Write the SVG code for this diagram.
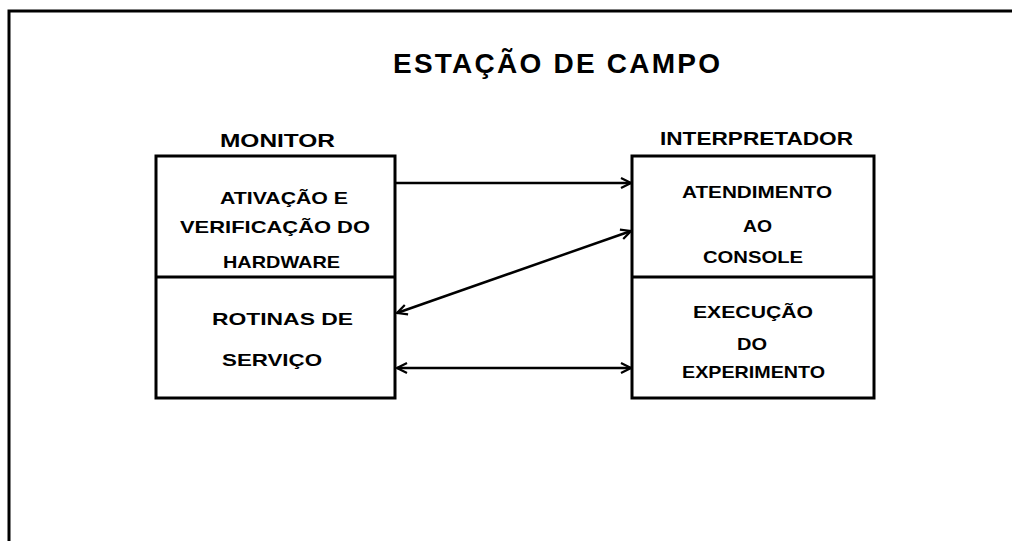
<svg xmlns="http://www.w3.org/2000/svg" width="1012" height="541" viewBox="0 0 1012 541">
<defs>
<style>
.frame{fill:none;stroke:#000;stroke-width:3}
.box{fill:#fff;stroke:#000;stroke-width:3}
.div{stroke:#000;stroke-width:3}
.t{font-family:"Liberation Sans",Arial,sans-serif;font-weight:bold;font-size:17px;fill:#000}
.h{font-family:"Liberation Sans",Arial,sans-serif;font-weight:bold;font-size:18px;fill:#000}
.title{font-family:"Liberation Sans",Arial,sans-serif;font-weight:bold;font-size:28px;fill:#000}
.c{fill:none;stroke:#000;stroke-width:2.5}
</style>
<marker id="ah" viewBox="0 0 12 12" refX="11" refY="6" markerWidth="12" markerHeight="12" markerUnits="userSpaceOnUse" orient="auto-start-reverse">
<path d="M1,1 L11,6 L1,11" fill="none" stroke="#000" stroke-width="2.2"/>
</marker>
</defs>
<rect width="1012" height="541" fill="#fff"/>
<path class="frame" d="M9,541 L9,11 L1012,11"/>
<text class="title" x="393" y="73" textLength="327" lengthAdjust="spacing">ESTAÇÃO DE CAMPO</text>

<g id="monitor">
<text class="h" x="220" y="147" textLength="115" lengthAdjust="spacingAndGlyphs">MONITOR</text>
<rect class="box" x="156" y="156" width="239" height="242"/>
<line class="div" x1="156" y1="277" x2="395" y2="277"/>
</g>
<g id="ativacao">
<text class="t" x="220" y="204" textLength="128" lengthAdjust="spacingAndGlyphs">ATIVAÇÃO E</text>
<text class="t" x="180" y="233" textLength="190" lengthAdjust="spacingAndGlyphs">VERIFICAÇÃO DO</text>
<text class="t" x="223" y="268" textLength="117" lengthAdjust="spacingAndGlyphs">HARDWARE</text>
</g>
<g id="rotinas">
<text class="t" x="212" y="325" textLength="141" lengthAdjust="spacingAndGlyphs">ROTINAS  DE</text>
<text class="t" x="222" y="366" textLength="100" lengthAdjust="spacingAndGlyphs">SERVIÇO</text>
</g>

<g id="interpretador">
<text class="h" x="660" y="145" textLength="193" lengthAdjust="spacingAndGlyphs">INTERPRETADOR</text>
<rect class="box" x="632" y="156" width="242" height="242"/>
<line class="div" x1="632" y1="277" x2="874" y2="277"/>
</g>
<g id="atendimento">
<text class="t" x="682" y="198" textLength="150" lengthAdjust="spacingAndGlyphs">ATENDIMENTO</text>
<text class="t" x="743" y="232" textLength="29" lengthAdjust="spacingAndGlyphs">AO</text>
<text class="t" x="703" y="263" textLength="100" lengthAdjust="spacingAndGlyphs">CONSOLE</text>
</g>
<g id="execucao">
<text class="t" x="693" y="318" textLength="120" lengthAdjust="spacingAndGlyphs">EXECUÇÃO</text>
<text class="t" x="737" y="350" textLength="30" lengthAdjust="spacingAndGlyphs">DO</text>
<text class="t" x="682" y="378" textLength="143" lengthAdjust="spacingAndGlyphs">EXPERIMENTO</text>
</g>

<g id="connectors">
<line class="c" x1="396" y1="183" x2="631" y2="183" marker-end="url(#ah)"/>
<line class="c" x1="397" y1="313" x2="631" y2="231" marker-start="url(#ah)" marker-end="url(#ah)"/>
<line class="c" x1="397" y1="368" x2="631" y2="368" marker-start="url(#ah)" marker-end="url(#ah)"/>
</g>
</svg>
